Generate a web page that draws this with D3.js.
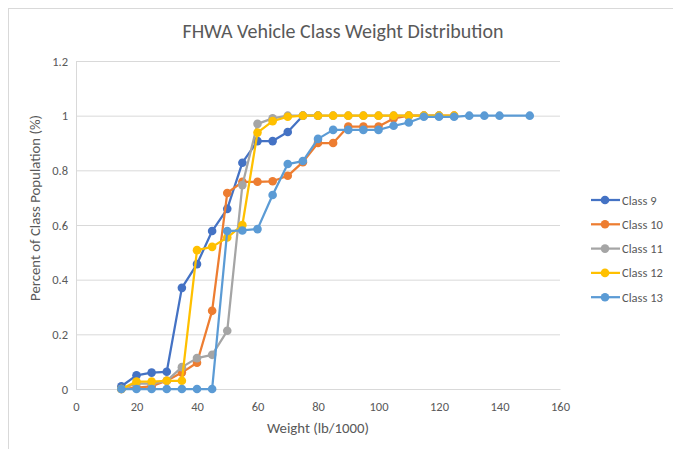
<!DOCTYPE html>
<html>
<head>
<meta charset="utf-8">
<script src="https://cdn.jsdelivr.net/npm/d3@7"></script>
<style>
  body { margin: 0; background: #fff; }
  text { font-family: Carlito, Lato, "Open Sans", sans-serif; fill: #595959; }
</style>
</head>
<body>
<svg id="chart" width="673" height="449"></svg>
<script>
const seriesNames = ["Class 9", "Class 10", "Class 11", "Class 12", "Class 13"];
const seriesColors = ["#4472C4", "#ED7D31", "#A5A5A5", "#FFC000", "#5B9BD5"];

const class9X  = [15, 20, 25, 30, 35, 40, 45, 50, 55, 60, 65, 70, 75, 80];
const class9Y  = [0.01, 0.05, 0.06, 0.063, 0.37, 0.457, 0.578, 0.659, 0.828, 0.907, 0.907, 0.94, 1, 1];

const class10X = [15, 20, 25, 30, 35, 40, 45, 50, 55, 60, 65, 70, 75, 80, 85, 90, 95, 100, 105, 110, 115, 120, 125];
const class10Y = [0, 0.005, 0.01, 0.03, 0.06, 0.096, 0.286, 0.717, 0.758, 0.758, 0.76, 0.78, 0.83, 0.9, 0.9, 0.96, 0.96, 0.96, 0.99, 1, 1, 1, 1];

const class11X = [15, 20, 25, 30, 35, 40, 45, 50, 55, 60, 65, 70, 75, 80, 85, 90, 95, 100, 105, 110, 115, 120];
const class11Y = [0, 0.02, 0.02, 0.03, 0.08, 0.113, 0.125, 0.213, 0.746, 0.97, 0.99, 1, 1, 1, 1, 1, 1, 1, 1, 1, 1, 1];

const class12X = [15, 20, 25, 30, 35, 40, 45, 50, 55, 60, 65, 70, 75, 80, 85, 90, 95, 100, 105, 110, 115, 120, 125];
const class12Y = [0, 0.027, 0.027, 0.03, 0.03, 0.508, 0.52, 0.554, 0.6, 0.938, 0.98, 0.996, 1, 1, 1, 1, 1, 1, 1, 1, 1, 1, 1];

const class13X = [15, 20, 25, 30, 35, 40, 45, 50, 55, 60, 65, 70, 75, 80, 85, 90, 95, 100, 105, 110, 115, 120, 125, 130, 135, 140, 150];
const class13Y = [0, 0, 0, 0, 0, 0, 0, 0.578, 0.58, 0.585, 0.71, 0.823, 0.834, 0.915, 0.948, 0.948, 0.948, 0.948, 0.963, 0.975, 0.996, 0.996, 0.996, 1, 1, 1, 1];

const xTicks = [0, 20, 40, 60, 80, 100, 120, 140, 160];
const yTicks = [0, 0.2, 0.4, 0.6, 0.8, 1, 1.2];

const titleText = "FHWA Vehicle Class Weight Distribution";
const xTitle = "Weight (lb/1000)";
const yTitle = "Percent of Class Population (%)";

const seriesX = [class9X, class10X, class11X, class12X, class13X];
const seriesY = [class9Y, class10Y, class11Y, class12Y, class13Y];

const svg = d3.select("#chart");
const plot = { left: 76, right: 560, top: 61, bottom: 389 };
const fontStack = "Carlito, Lato, 'Open Sans', sans-serif";

const x = d3.scaleLinear().domain([0, 160]).range([plot.left, plot.right]);
const y = d3.scaleLinear().domain([0, 1.2]).range([plot.bottom, plot.top]);

// outer chart border
svg.append("rect").attr("x", 8.5).attr("y", 8.5).attr("width", 700).attr("height", 480)
  .attr("fill", "none").attr("stroke", "#d9d9d9").attr("stroke-width", 1);

// gridlines
const gy = svg.append("g").attr("transform", `translate(${plot.left},0)`)
  .call(d3.axisLeft(y).tickValues(yTicks).tickSize(-(plot.right - plot.left)).tickFormat(""));
gy.select(".domain").remove();
gy.selectAll("line").attr("stroke", "#d9d9d9");

// y tick labels
const yAxis = svg.append("g").attr("transform", `translate(${plot.left},0)`)
  .call(d3.axisLeft(y).tickValues(yTicks).tickSize(0).tickPadding(8).tickFormat(d => d3.format("~g")(d)));
yAxis.select(".domain").attr("stroke", "#d9d9d9");
yAxis.selectAll("text").style("font-size", "12.5px").attr("fill", "#595959").style("font-family", fontStack);

// x axis
const xAxis = svg.append("g").attr("transform", `translate(0,${plot.bottom})`)
  .call(d3.axisBottom(x).tickValues(xTicks).tickSize(0).tickPadding(13));
xAxis.select(".domain").attr("stroke", "#d9d9d9");
xAxis.selectAll("text").style("font-size", "12.5px").attr("fill", "#595959").style("font-family", fontStack);

// series
const line = d3.line().x(d => x(d[0])).y(d => y(d[1]));
seriesNames.forEach((name, i) => {
  const pts = seriesX[i].map((v, j) => [v, seriesY[i][j]]);
  const g = svg.append("g");
  g.append("path").datum(pts).attr("d", line).attr("fill", "none")
    .attr("stroke", seriesColors[i]).attr("stroke-width", 2.25).attr("stroke-linejoin", "round");
  g.selectAll("circle").data(pts).join("circle")
    .attr("cx", d => x(d[0])).attr("cy", d => y(d[1])).attr("r", 4.3)
    .attr("fill", seriesColors[i]);
});

// title
svg.append("text").attr("x", 343).attr("y", 38).attr("text-anchor", "middle")
  .style("font-size", "20px").text(titleText);

// axis titles
svg.append("text").attr("x", 318).attr("y", 433).attr("text-anchor", "middle")
  .style("font-size", "14.8px").text(xTitle);
svg.append("text").attr("transform", "translate(40,208) rotate(-90)").attr("text-anchor", "middle")
  .style("font-size", "14.8px").text(yTitle);

// legend
const legend = svg.append("g");
seriesNames.forEach((name, i) => {
  const ly = 200 + i * 24.3;
  legend.append("line").attr("x1", 591).attr("x2", 620).attr("y1", ly).attr("y2", ly)
    .attr("stroke", seriesColors[i]).attr("stroke-width", 2.25);
  legend.append("circle").attr("cx", 605).attr("cy", ly).attr("r", 4.3).attr("fill", seriesColors[i]);
  legend.append("text").attr("x", 622).attr("y", ly + 4.5).style("font-size", "12.5px").text(name);
});
</script>
</body>
</html>
